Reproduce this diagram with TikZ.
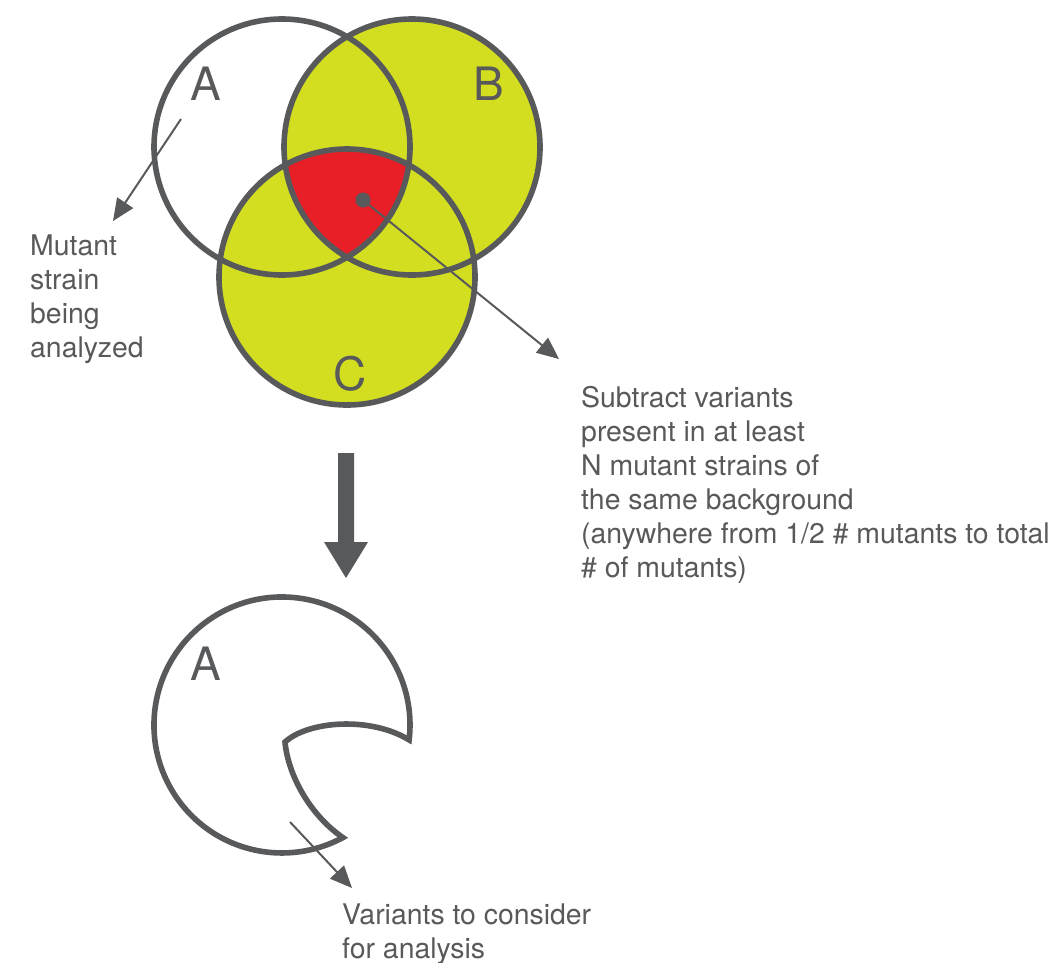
\documentclass[tikz,border=0pt]{standalone}
\usepackage{fontspec}
\setmainfont{TeX Gyre Heros}
\usetikzlibrary{arrows.meta}
\definecolor{ink}{HTML}{58595B}
\definecolor{lime}{HTML}{D4DE21}
\definecolor{hot}{HTML}{E81F27}
\begin{document}
\begin{tikzpicture}[x=1pt,y=1pt,
  ring/.style={draw=ink, line width=5.6pt},
  pointer/.style={draw=ink, line width=2pt, -{Triangle[length=22pt,width=19pt]}},
  setlabel/.style={text=ink, font=\fontsize{46}{46}\selectfont, inner sep=0pt, anchor=base},
  caption/.style={text=ink, font=\fontsize{28.4}{34}\selectfont, inner sep=0pt, align=left, anchor=base west}]
\useasboundingbox (0,0) rectangle (1064,-962);
% Venn centres
\coordinate (cA) at (282,-147);
\coordinate (cB) at (412,-147);
\coordinate (cC) at (347,-277);
\fill[lime] (cB) circle[radius=128];
\fill[lime] (cC) circle[radius=128];
\begin{scope}
  \clip (cA) circle[radius=128];
  \clip (cB) circle[radius=128];
  \fill[hot] (cC) circle[radius=128];
\end{scope}
\draw[ring] (cA) circle[radius=128];
\draw[ring] (cB) circle[radius=128];
\draw[ring] (cC) circle[radius=128];
\node[setlabel] (la) at (205.5,-100) {A};
\node[setlabel] (lb) at (488.5,-100) {B};
\node[setlabel] (lc) at (350,-390) {C};
% pointer from A
\coordinate (aStart) at (181,-119);
\coordinate (aTip) at (113,-221);
\draw[pointer] (aStart) -- (aTip);
\node[caption] (mut) at (30,-357) {Mutant\\strain\\being\\analyzed};
% dot in triple intersection
\node[circle, fill=ink, minimum size=15pt, inner sep=0pt] (dot) at (363,-200) {};
\coordinate (rTip) at (559,-359);
\draw[pointer] (dot.center) -- (rTip);
\node[caption] (sub) at (581,-577) {Subtract variants\\present in at least\\N mutant strains of\\the same background\\(anywhere from 1/2 \# mutants to total\\\# of mutants)};
% big down arrow
\fill[ink] (338,-453) -- (354,-453) -- (354,-542) -- (368,-542) -- (346,-578) -- (324,-542) -- (338,-542) -- cycle;
% resulting set A
\coordinate (O) at (282,-725);
\draw[ring, fill=white, line join=miter] (409.1,-739.9) arc[start angle=-6.7, end angle=298.4, radius=128]
  .. controls (310,-815) and (288,-775) .. (285,-742)
  .. controls (308,-721) and (370,-716) .. (409.1,-739.9) -- cycle;
\node[setlabel] (la2) at (205.5,-680) {A};
\coordinate (bStart) at (290,-822);
\coordinate (bTip) at (352,-888);
\draw[pointer] (bStart) -- (bTip);
\node[caption] (var) at (342,-958) {Variants to consider\\for analysis};
\end{tikzpicture}
\end{document}
